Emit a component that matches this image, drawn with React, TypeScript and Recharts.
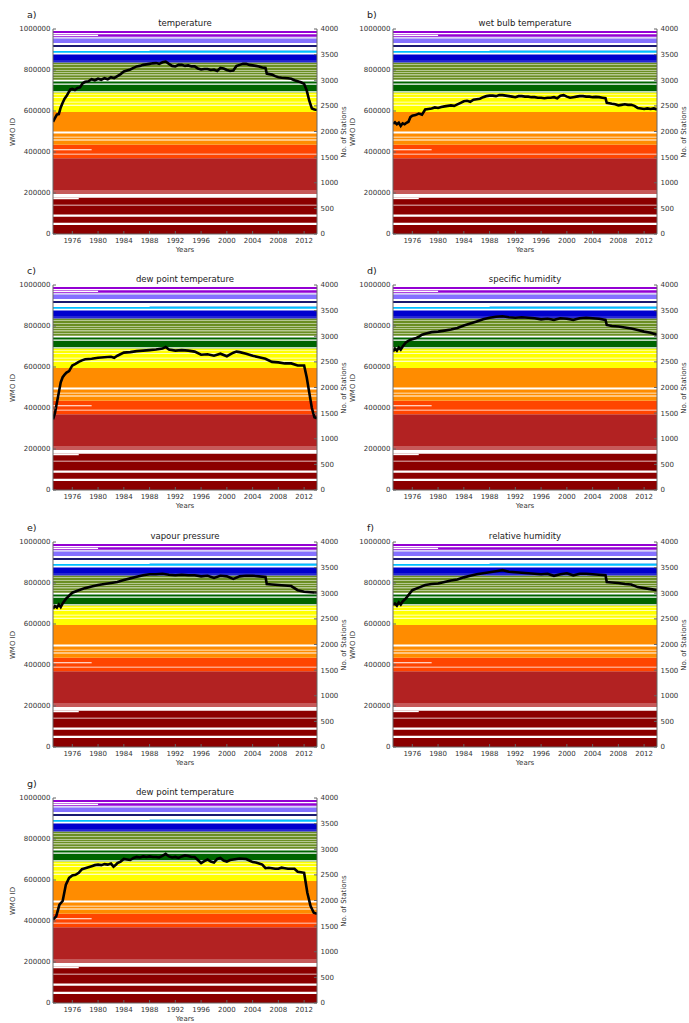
import React from 'react';
import { ComposedChart, Line, XAxis, YAxis, ReferenceArea } from 'recharts';

const yearTicks = [1976, 1980, 1984, 1988, 1992, 1996, 2000, 2004, 2008, 2012];
const idTicks = [0, 200000, 400000, 600000, 800000, 1000000];
const stationTicks = [0, 500, 1000, 1500, 2000, 2500, 3000, 3500, 4000];

// WMO ID blocks: [low, high, region]
const idBlocks: [number, number, string][] = [
  [0, 44000, 'r0'],
  [55000, 84000, 'r0'],
  [95000, 139000, 'r0'],
  [143000, 177000, 'r0'],
  [195000, 215000, 'r1p'],
  [215000, 370000, 'r1'],
  [370000, 435000, 'r2'],
  [435000, 595000, 'r3'],
  [595000, 690000, 'r4'],
  [690000, 693000, 'r5p'],
  [696000, 728000, 'r5'],
  [734000, 744000, 'r5'],
  [752000, 836000, 'r6'],
  [836000, 849000, 'r7p'],
  [849000, 876000, 'r7'],
  [884000, 893000, 'r8'],
  [912000, 922000, 'r9'],
  [932000, 952000, 'r10'],
  [952000, 958000, 'r10p'],
  [962000, 975000, 'r11'],
  [980000, 990000, 'r11'],
];

// blocks that only start reporting later: [low, high, region, first year]
const lateBlocks: [number, number, string, number][] = [
  [893000, 898000, 'r8p', 1988],
];

// empty ID ranges inside the blocks: [low, high]
const idGaps: [number, number][] = [
  [762000, 764500], [775000, 777500], [787000, 789500], [798000, 800500],
  [811000, 813500], [824000, 826500],
  [626000, 630000], [642000, 645000], [663000, 667000], [679000, 682000],
  [490000, 500000], [471000, 474000], [456000, 461000],
  [388000, 392000],
];

// stations that start late, blank until: [low, high, year]
const lateGaps: [number, number, number][] = [
  [408000, 414000, 1979],
  [170000, 177000, 1977],
  [966000, 972000, 1980],
];

const temperature: [number, number][] = [
  [1973.0, 2190], [1973.3, 2260], [1973.6, 2330], [1973.9, 2340], [1974.2, 2470], [1974.5, 2560],
  [1974.8, 2640], [1975.1, 2690], [1975.4, 2760], [1975.7, 2820], [1976.0, 2830], [1976.4, 2810],
  [1976.8, 2850], [1977.2, 2860], [1977.6, 2940], [1978.0, 2970], [1978.5, 2980], [1979.0, 3020],
  [1979.5, 3000], [1980.0, 3030], [1980.5, 3010], [1981.0, 3040], [1981.5, 3020], [1982.0, 3060],
  [1982.5, 3040], [1983.0, 3080], [1983.5, 3120], [1984.0, 3170], [1984.5, 3190], [1985.0, 3210],
  [1985.5, 3240], [1986.0, 3270], [1986.5, 3280], [1987.0, 3300], [1987.5, 3310], [1988.0, 3320],
  [1988.5, 3330], [1989.0, 3335], [1989.5, 3320], [1990.0, 3350], [1990.5, 3365], [1991.0, 3320],
  [1991.5, 3280], [1992.0, 3270], [1992.5, 3300], [1993.0, 3300], [1993.5, 3280], [1994.0, 3290],
  [1994.5, 3270], [1995.0, 3270], [1995.5, 3230], [1996.0, 3210], [1996.5, 3220], [1997.0, 3220],
  [1997.5, 3200], [1998.0, 3210], [1998.5, 3180], [1999.0, 3240], [1999.5, 3230], [2000.0, 3200],
  [2000.5, 3180], [2001.0, 3190], [2001.5, 3280], [2002.0, 3300], [2002.5, 3320], [2003.0, 3320],
  [2003.5, 3300], [2004.0, 3290], [2004.5, 3280], [2005.0, 3270], [2005.5, 3250], [2006.0, 3240],
  [2006.2, 3130], [2006.6, 3120], [2007.0, 3110], [2007.5, 3080], [2008.0, 3060], [2008.5, 3050],
  [2009.0, 3045], [2009.5, 3040], [2010.0, 3030], [2010.5, 3000], [2011.0, 2980], [2011.5, 2960],
  [2012.0, 2930], [2012.4, 2800], [2012.8, 2600], [2013.2, 2450], [2013.6, 2430], [2014.0, 2420],
];

const wetBulb: [number, number][] = [
  [1973.0, 2150], [1973.3, 2180], [1973.6, 2140], [1973.9, 2170], [1974.2, 2110], [1974.5, 2160],
  [1974.8, 2140], [1975.1, 2170], [1975.4, 2190], [1975.7, 2280], [1976.0, 2310], [1976.5, 2320],
  [1977.0, 2350], [1977.5, 2330], [1978.0, 2430], [1978.5, 2440], [1979.0, 2450], [1979.5, 2470],
  [1980.0, 2460], [1980.5, 2480], [1981.0, 2490], [1981.5, 2500], [1982.0, 2510], [1982.5, 2500],
  [1983.0, 2530], [1983.5, 2560], [1984.0, 2590], [1984.5, 2600], [1985.0, 2580], [1985.5, 2620],
  [1986.0, 2630], [1986.5, 2640], [1987.0, 2670], [1987.5, 2690], [1988.0, 2700], [1988.5, 2700],
  [1989.0, 2690], [1989.5, 2710], [1990.0, 2710], [1990.5, 2700], [1991.0, 2690], [1991.5, 2680],
  [1992.0, 2670], [1992.5, 2690], [1993.0, 2690], [1993.5, 2680], [1994.0, 2680], [1994.5, 2670],
  [1995.0, 2670], [1995.5, 2660], [1996.0, 2660], [1996.5, 2650], [1997.0, 2660], [1997.5, 2660],
  [1998.0, 2670], [1998.5, 2650], [1999.0, 2700], [1999.5, 2710], [2000.0, 2680], [2000.5, 2660],
  [2001.0, 2670], [2001.5, 2680], [2002.0, 2690], [2002.5, 2690], [2003.0, 2680], [2003.5, 2680],
  [2004.0, 2670], [2004.5, 2675], [2005.0, 2670], [2005.5, 2660], [2006.0, 2650], [2006.2, 2560],
  [2006.6, 2550], [2007.0, 2540], [2007.5, 2530], [2008.0, 2510], [2008.5, 2520], [2009.0, 2530],
  [2009.5, 2520], [2010.0, 2520], [2010.5, 2500], [2011.0, 2460], [2011.5, 2450], [2012.0, 2440],
  [2012.5, 2450], [2013.0, 2440], [2013.5, 2450], [2014.0, 2430],
];

const dewPoint: [number, number][] = [
  [1973.0, 1380], [1973.3, 1500], [1973.6, 1700], [1973.9, 1900], [1974.2, 2100], [1974.5, 2200],
  [1974.8, 2250], [1975.1, 2290], [1975.5, 2320], [1976.0, 2430], [1976.5, 2460], [1977.0, 2500],
  [1977.5, 2530], [1978.0, 2550], [1979.0, 2560], [1980.0, 2580], [1981.0, 2590], [1982.0, 2600],
  [1982.5, 2580], [1983.0, 2620], [1984.0, 2680], [1985.0, 2690], [1986.0, 2710], [1987.0, 2720],
  [1988.0, 2730], [1989.0, 2740], [1990.0, 2760], [1990.5, 2790], [1991.0, 2740], [1992.0, 2720],
  [1993.0, 2730], [1994.0, 2720], [1995.0, 2700], [1996.0, 2640], [1997.0, 2650], [1998.0, 2620],
  [1999.0, 2660], [2000.0, 2610], [2001.0, 2680], [2001.5, 2700], [2002.0, 2690], [2003.0, 2660],
  [2004.0, 2620], [2005.0, 2590], [2006.0, 2560], [2007.0, 2500], [2008.0, 2490], [2009.0, 2470],
  [2010.0, 2470], [2011.0, 2430], [2012.0, 2430], [2012.4, 2200], [2012.8, 1900], [2013.2, 1600],
  [2013.6, 1420], [2014.0, 1400],
];

const specificHumidity: [number, number][] = [
  [1973.0, 2700], [1973.3, 2760], [1973.6, 2720], [1973.9, 2780], [1974.2, 2740], [1974.5, 2800],
  [1975.0, 2880], [1975.5, 2920], [1976.0, 2940], [1976.5, 2960], [1977.0, 2990], [1977.5, 3030],
  [1978.0, 3050], [1979.0, 3080], [1980.0, 3090], [1981.0, 3110], [1982.0, 3130], [1983.0, 3160],
  [1984.0, 3210], [1985.0, 3250], [1986.0, 3290], [1987.0, 3330], [1988.0, 3360], [1989.0, 3380],
  [1990.0, 3390], [1991.0, 3370], [1992.0, 3360], [1993.0, 3370], [1994.0, 3360], [1995.0, 3350],
  [1996.0, 3330], [1997.0, 3340], [1998.0, 3320], [1999.0, 3350], [2000.0, 3340], [2001.0, 3320],
  [2002.0, 3350], [2003.0, 3360], [2004.0, 3350], [2005.0, 3340], [2006.0, 3320], [2006.2, 3220],
  [2007.0, 3200], [2008.0, 3190], [2009.0, 3170], [2010.0, 3150], [2011.0, 3120], [2012.0, 3090],
  [2013.0, 3070], [2014.0, 3030],
];

const vapourPressure: [number, number][] = [
  [1973.0, 2700], [1973.3, 2750], [1973.6, 2720], [1973.9, 2780], [1974.2, 2730], [1974.5, 2800],
  [1975.0, 2890], [1975.5, 2950], [1976.0, 3010], [1977.0, 3060], [1978.0, 3100], [1979.0, 3130],
  [1980.0, 3160], [1981.0, 3180], [1982.0, 3200], [1983.0, 3220], [1984.0, 3260], [1985.0, 3290],
  [1986.0, 3320], [1987.0, 3350], [1988.0, 3370], [1989.0, 3370], [1990.0, 3380], [1991.0, 3360],
  [1992.0, 3350], [1993.0, 3360], [1994.0, 3350], [1995.0, 3350], [1996.0, 3330], [1997.0, 3340],
  [1998.0, 3300], [1999.0, 3340], [2000.0, 3330], [2001.0, 3280], [2002.0, 3330], [2003.0, 3340],
  [2004.0, 3340], [2005.0, 3330], [2006.0, 3320], [2006.2, 3180], [2007.0, 3170], [2008.0, 3160],
  [2009.0, 3150], [2010.0, 3140], [2011.0, 3060], [2012.0, 3030], [2013.0, 3020], [2014.0, 3010],
];

const relativeHumidity: [number, number][] = [
  [1973.0, 2770], [1973.3, 2800], [1973.6, 2760], [1973.9, 2820], [1974.2, 2780], [1974.5, 2840],
  [1975.0, 2900], [1975.5, 2980], [1976.0, 3060], [1977.0, 3110], [1978.0, 3160], [1979.0, 3180],
  [1980.0, 3190], [1981.0, 3220], [1982.0, 3250], [1983.0, 3270], [1984.0, 3310], [1985.0, 3340],
  [1986.0, 3370], [1987.0, 3390], [1988.0, 3410], [1989.0, 3430], [1990.0, 3450], [1991.0, 3420],
  [1992.0, 3410], [1993.0, 3400], [1994.0, 3390], [1995.0, 3380], [1996.0, 3370], [1997.0, 3380],
  [1998.0, 3340], [1999.0, 3370], [2000.0, 3390], [2001.0, 3350], [2002.0, 3380], [2003.0, 3380],
  [2004.0, 3370], [2005.0, 3360], [2006.0, 3350], [2006.2, 3220], [2007.0, 3210], [2008.0, 3200],
  [2009.0, 3180], [2010.0, 3170], [2011.0, 3120], [2012.0, 3100], [2013.0, 3080], [2014.0, 3060],
];

const dewPointG: [number, number][] = [
  [1973.0, 1630], [1973.5, 1690], [1974.0, 1920], [1974.5, 1990], [1975.0, 2310], [1975.5, 2440],
  [1976.0, 2490], [1976.5, 2500], [1977.0, 2540], [1977.5, 2610], [1978.0, 2630], [1978.5, 2650],
  [1979.0, 2670], [1979.5, 2690], [1980.0, 2700], [1980.5, 2690], [1981.0, 2710], [1981.5, 2700],
  [1982.0, 2720], [1982.4, 2660], [1982.8, 2700], [1983.0, 2730], [1983.5, 2760], [1984.0, 2810],
  [1984.5, 2800], [1985.0, 2790], [1985.5, 2830], [1986.0, 2850], [1986.5, 2840], [1987.0, 2860],
  [1987.5, 2850], [1988.0, 2860], [1988.5, 2850], [1989.0, 2850], [1989.5, 2840], [1990.0, 2870],
  [1990.5, 2910], [1991.0, 2860], [1991.5, 2840], [1992.0, 2850], [1992.5, 2830], [1993.0, 2860],
  [1993.5, 2880], [1994.0, 2870], [1994.5, 2850], [1995.0, 2850], [1995.5, 2790], [1996.0, 2730],
  [1996.5, 2770], [1997.0, 2800], [1997.5, 2760], [1998.0, 2740], [1998.5, 2810], [1999.0, 2830],
  [1999.5, 2780], [2000.0, 2760], [2000.5, 2790], [2001.0, 2800], [2001.5, 2810], [2002.0, 2820],
  [2003.0, 2810], [2003.5, 2780], [2004.0, 2750], [2004.5, 2740], [2005.0, 2720], [2005.5, 2700],
  [2006.0, 2630], [2006.5, 2640], [2007.0, 2630], [2007.5, 2620], [2008.0, 2620], [2008.5, 2640],
  [2009.0, 2630], [2009.5, 2620], [2010.0, 2620], [2010.5, 2620], [2011.0, 2560], [2011.5, 2550],
  [2012.0, 2540], [2012.5, 2150], [2013.0, 1890], [2013.5, 1760], [2014.0, 1740],
];

const regionColor: Record<string, string> = {
  r0: '#8B0000',
  r1: '#B22222',
  r1p: '#C65A5A',
  r2: '#FF4500',
  r3: '#FF8C00',
  r4: '#FFFF00',
  r5: '#006400',
  r5p: '#8DBE7A',
  r6: '#6B8E23',
  r7: '#0000CD',
  r7p: '#2626D4',
  r8: '#00BFFF',
  r8p: '#87CEFA',
  r9: '#191970',
  r10: '#8470FF',
  r10p: '#B3A6F5',
  r11: '#9400D3',
};

const panels = [
  { letter: 'a)', title: 'temperature', series: temperature },
  { letter: 'b)', title: 'wet bulb temperature', series: wetBulb },
  { letter: 'c)', title: 'dew point temperature', series: dewPoint },
  { letter: 'd)', title: 'specific humidity', series: specificHumidity },
  { letter: 'e)', title: 'vapour pressure', series: vapourPressure },
  { letter: 'f)', title: 'relative humidity', series: relativeHumidity },
  { letter: 'g)', title: 'dew point temperature', series: dewPointG },
];

const W = 348;
const H = 256;
const FRAME = '#666';
const TXT = '#333';

const Panel = ({ letter, title, series, left, top }: any) => {
  const data = series.map(([t, n]: [number, number]) => ({ t, n }));
  const tick = { fontSize: 7, fill: TXT };
  return (
    <div style={{ position: 'absolute', left, top, width: W, height: H }}>
      <ComposedChart width={W} height={H} data={data} margin={{ top: 29, right: 3, bottom: 0, left: 9 }}>
        {idBlocks.map(([lo, hi, r], i) => (
          <ReferenceArea key={'b' + i} yAxisId="id" y1={lo} y2={hi} fill={regionColor[r]} fillOpacity={1} stroke="none" />
        ))}
        {lateBlocks.map(([lo, hi, r, yr], i) => (
          <ReferenceArea key={'l' + i} yAxisId="id" x1={yr} x2={2014} y1={lo} y2={hi} fill={regionColor[r]} fillOpacity={1} stroke="none" />
        ))}
        {idGaps.map(([lo, hi], i) => (
          <ReferenceArea key={'g' + i} yAxisId="id" y1={lo} y2={hi} fill="#fff" fillOpacity={1} stroke="none" />
        ))}
        {lateGaps.map(([lo, hi, yr], i) => (
          <ReferenceArea key={'s' + i} yAxisId="id" x1={1973} x2={yr} y1={lo} y2={hi} fill="#fff" fillOpacity={1} stroke="none" />
        ))}
        <Line yAxisId="n" type="linear" dataKey="n" stroke="#000" strokeWidth={2.6} dot={false} isAnimationActive={false} />
        <XAxis
          dataKey="t"
          type="number"
          domain={[1973, 2014]}
          ticks={yearTicks}
          allowDataOverflow
          height={22}
          tickSize={-3}
          tickMargin={7}
          tick={tick}
          stroke={FRAME}
        />
        <XAxis
          xAxisId="top"
          orientation="top"
          dataKey="t"
          type="number"
          domain={[1973, 2014]}
          ticks={yearTicks}
          allowDataOverflow
          height={0}
          tickSize={-3}
          tick={false}
          stroke={FRAME}
        />
        <YAxis
          yAxisId="id"
          type="number"
          domain={[0, 1000000]}
          ticks={idTicks}
          allowDataOverflow
          width={44}
          tickSize={-3}
          tickMargin={5.5}
          tick={tick}
          stroke={FRAME}
        />
        <YAxis
          yAxisId="n"
          orientation="right"
          type="number"
          domain={[0, 4000]}
          ticks={stationTicks}
          allowDataOverflow
          width={28}
          tickSize={-3}
          tickMargin={6.5}
          tick={tick}
          stroke={FRAME}
        />
      </ComposedChart>
      <svg width={W} height={H} style={{ position: 'absolute', left: 0, top: 0, pointerEvents: 'none' }}>
        <text x={27} y={17.5} fontSize={9.5} fill="#222">{letter}</text>
        <text x={185} y={25.5} fontSize={8.5} fill="#222" textAnchor="middle">{title}</text>
        <text x={185} y={252.3} fontSize={7} fill={TXT} textAnchor="middle">Years</text>
        <text transform="translate(15,132) rotate(-90)" fontSize={7} fill={TXT} textAnchor="middle">WMO ID</text>
        <text transform="translate(346,132) rotate(-90)" fontSize={7} fill={TXT} textAnchor="middle">No. of Stations</text>
      </svg>
    </div>
  );
};

export default function App() {
  return (
    <div style={{ position: 'absolute', left: 0, top: 0, width: 689, height: 1023, background: '#fff', fontFamily: 'DejaVu Sans' }}>
      {panels.map((p, i) => (
        <Panel key={p.letter} {...p} left={(i % 2) * 340} top={Math.floor(i / 2) * 256.3} />
      ))}
    </div>
  );
}
